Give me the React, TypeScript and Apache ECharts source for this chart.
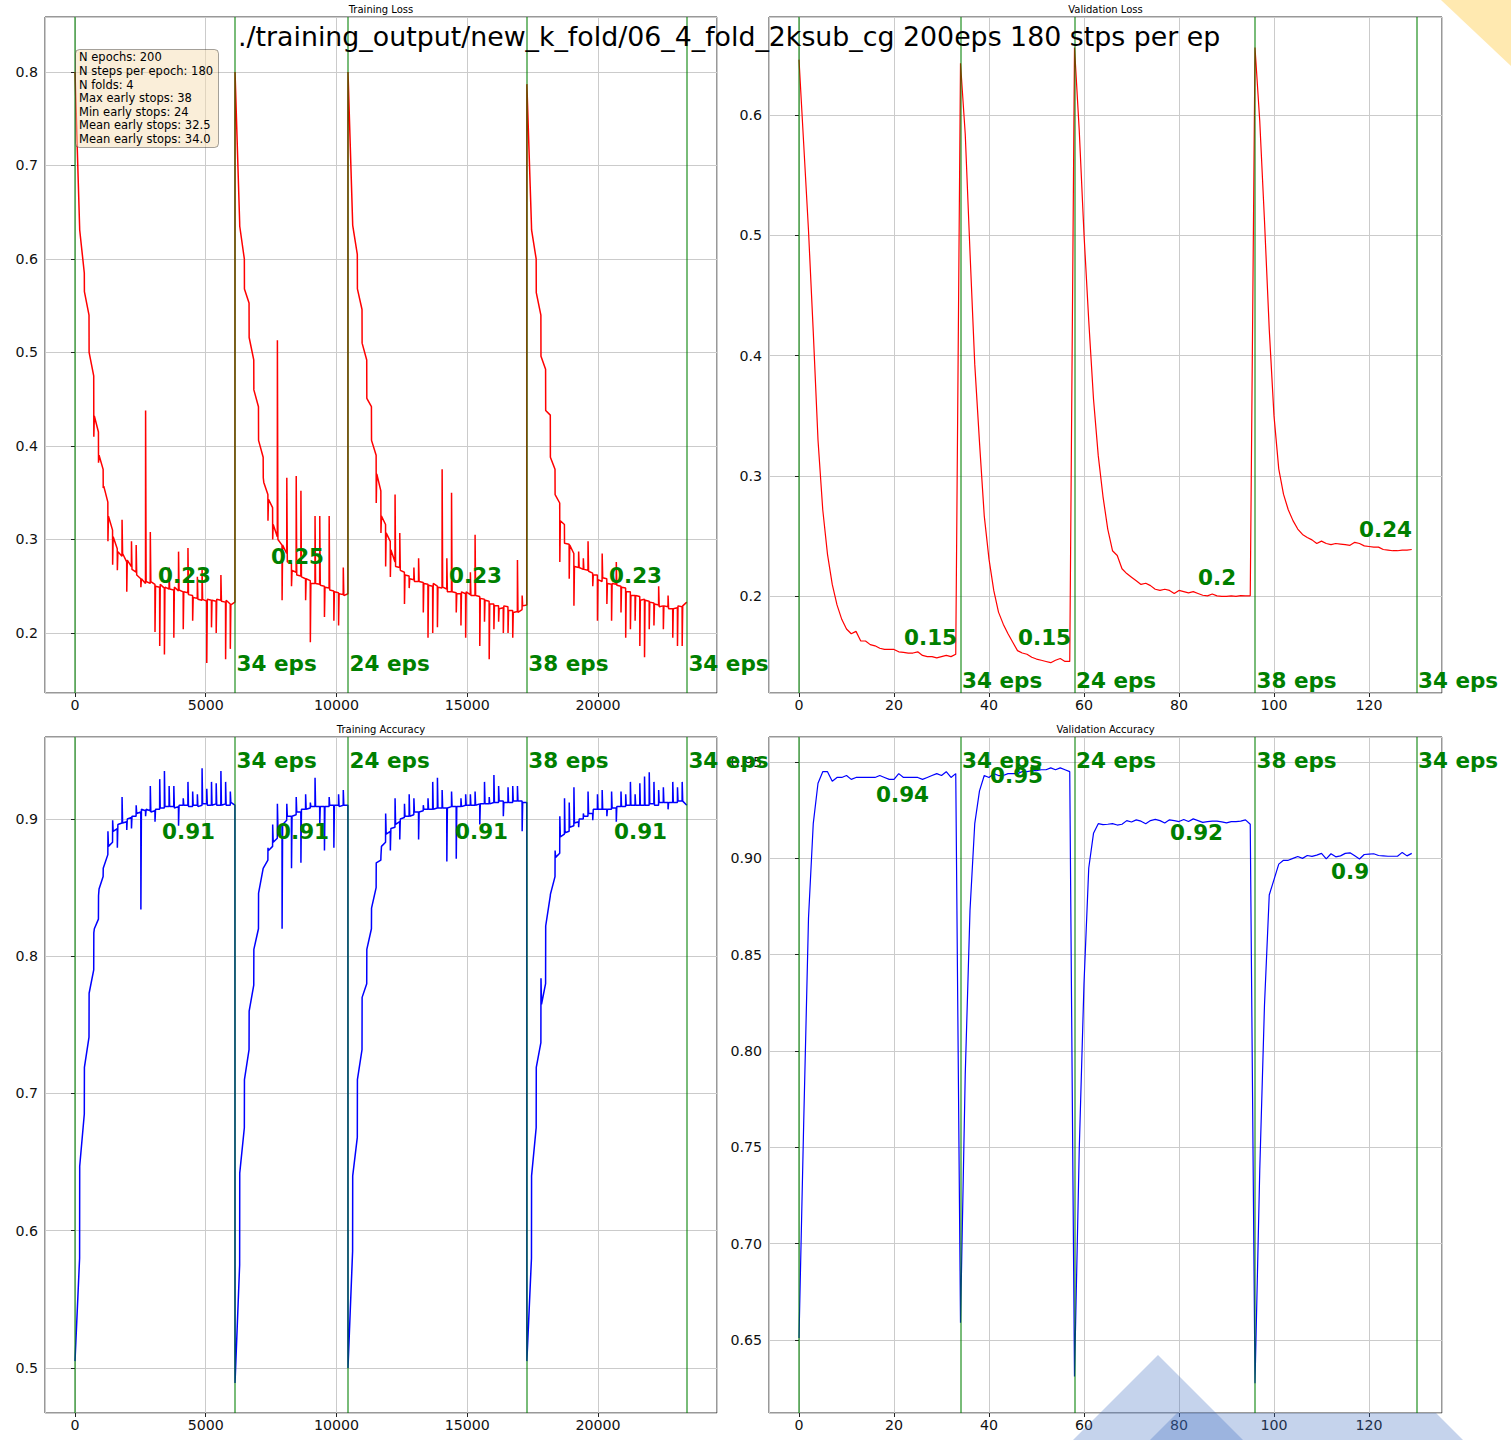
import React, { useEffect, useRef } from "react";
import * as echarts from "echarts";

// ---------------- data ----------------
const STEPS_PER_EPOCH = 180;
const foldEpochs = [34, 24, 38, 34];

const titleText = "./training_output/new_k_fold/06_4_fold_2ksub_cg 200eps 180 stps per ep";
const panelTitles = ["Training Loss", "Validation Loss", "Training Accuracy", "Validation Accuracy"];
const infoLines = [
  "N epochs: 200",
  "N steps per epoch: 180",
  "N folds: 4",
  "Max early stops: 38",
  "Min early stops: 24",
  "Mean early stops: 32.5",
  "Mean early stops: 34.0",
];

// training loss per epoch: [first batches of epoch, settled running value, end-of-epoch value]
const trainLossFold1 = [
  [0.8, 0.8, 0.635], [0.631, 0.631, 0.585], [0.565, 0.565, 0.54], [0.5, 0.5, 0.475],
  [0.41, 0.432, 0.415], [0.382, 0.39, 0.375], [0.355, 0.357, 0.34], [0.298, 0.325, 0.31],
  [0.273, 0.303, 0.29], [0.267, 0.287, 0.282], [0.321, 0.285, 0.276], [0.244, 0.278, 0.271],
  [0.298, 0.268, 0.265], [0.294, 0.262, 0.258], [0.249, 0.258, 0.253], [0.438, 0.255, 0.253],
  [0.308, 0.255, 0.252], [0.201, 0.25, 0.249], [0.186, 0.252, 0.248], [0.177, 0.249, 0.247],
  [0.27, 0.247, 0.246], [0.195, 0.249, 0.245], [0.287, 0.246, 0.244], [0.204, 0.244, 0.243],
  [0.291, 0.241, 0.24], [0.213, 0.238, 0.237], [0.26, 0.236, 0.235], [0.269, 0.236, 0.234],
  [0.168, 0.236, 0.235], [0.206, 0.235, 0.234], [0.2, 0.236, 0.235], [0.262, 0.234, 0.233],
  [0.172, 0.235, 0.231], [0.183, 0.23, 0.233],
];
const trainLossFold2 = [
  [0.8, 0.8, 0.64], [0.635, 0.635, 0.6], [0.568, 0.568, 0.553], [0.516, 0.516, 0.492],
  [0.46, 0.46, 0.442], [0.406, 0.406, 0.388], [0.366, 0.361, 0.348], [0.32, 0.343, 0.334],
  [0.3, 0.316, 0.303], [0.513, 0.3, 0.294], [0.235, 0.294, 0.285], [0.366, 0.276, 0.274],
  [0.25, 0.267, 0.265], [0.368, 0.262, 0.261], [0.352, 0.26, 0.258], [0.235, 0.258, 0.256],
  [0.19, 0.253, 0.253], [0.325, 0.253, 0.252], [0.325, 0.251, 0.25], [0.217, 0.249, 0.248],
  [0.325, 0.246, 0.245], [0.213, 0.244, 0.243], [0.208, 0.242, 0.241], [0.27, 0.24, 0.242],
];
const trainLossFold3 = [
  [0.8, 0.8, 0.64], [0.636, 0.636, 0.605], [0.568, 0.568, 0.546], [0.51, 0.51, 0.492],
  [0.451, 0.451, 0.442], [0.406, 0.406, 0.39], [0.339, 0.37, 0.352], [0.307, 0.325, 0.316],
  [0.271, 0.307, 0.298], [0.26, 0.289, 0.276], [0.348, 0.271, 0.27], [0.307, 0.267, 0.265],
  [0.231, 0.262, 0.261], [0.248, 0.258, 0.257], [0.27, 0.255, 0.255], [0.28, 0.255, 0.254],
  [0.222, 0.253, 0.252], [0.195, 0.251, 0.25], [0.2, 0.253, 0.25], [0.206, 0.249, 0.248],
  [0.375, 0.249, 0.247], [0.28, 0.244, 0.244], [0.35, 0.244, 0.243], [0.222, 0.242, 0.242],
  [0.208, 0.244, 0.242], [0.195, 0.244, 0.241], [0.265, 0.24, 0.24], [0.305, 0.24, 0.239],
  [0.186, 0.237, 0.236], [0.212, 0.235, 0.234], [0.172, 0.231, 0.231], [0.204, 0.229, 0.229],
  [0.212, 0.226, 0.227], [0.2, 0.229, 0.228], [0.2, 0.224, 0.224], [0.195, 0.222, 0.223],
  [0.278, 0.222, 0.225], [0.24, 0.229, 0.23],
];
const trainLossFold4 = [
  [0.787, 0.787, 0.636], [0.631, 0.631, 0.6], [0.564, 0.564, 0.54], [0.496, 0.496, 0.482],
  [0.438, 0.438, 0.433], [0.388, 0.388, 0.375], [0.348, 0.348, 0.339], [0.276, 0.32, 0.316],
  [0.296, 0.296, 0.295], [0.258, 0.294, 0.285], [0.229, 0.271, 0.27], [0.287, 0.27, 0.268],
  [0.28, 0.268, 0.267], [0.298, 0.266, 0.264], [0.25, 0.262, 0.262], [0.213, 0.257, 0.255],
  [0.285, 0.259, 0.258], [0.231, 0.253, 0.252], [0.213, 0.253, 0.252], [0.276, 0.251, 0.25],
  [0.222, 0.249, 0.248], [0.195, 0.244, 0.244], [0.204, 0.24, 0.24], [0.213, 0.24, 0.239],
  [0.186, 0.235, 0.236], [0.174, 0.235, 0.234], [0.204, 0.233, 0.232], [0.208, 0.231, 0.23],
  [0.25, 0.228, 0.229], [0.204, 0.229, 0.228], [0.24, 0.226, 0.226], [0.195, 0.226, 0.227],
  [0.186, 0.229, 0.228], [0.186, 0.229, 0.233],
];

// training accuracy per epoch: [first batches of epoch, settled running value, end-of-epoch value]
const trainAccFold1 = [
  [0.505, 0.505, 0.58], [0.647, 0.647, 0.685], [0.719, 0.719, 0.741], [0.773, 0.773, 0.79],
  [0.817, 0.82, 0.827], [0.844, 0.849, 0.858], [0.864, 0.864, 0.874], [0.891, 0.88, 0.883],
  [0.899, 0.891, 0.893], [0.879, 0.896, 0.897], [0.916, 0.897, 0.898], [0.892, 0.9, 0.901],
  [0.893, 0.902, 0.902], [0.91, 0.904, 0.905], [0.834, 0.907, 0.906], [0.902, 0.907, 0.906],
  [0.924, 0.905, 0.906], [0.898, 0.907, 0.907], [0.929, 0.908, 0.908], [0.935, 0.909, 0.909],
  [0.924, 0.909, 0.909], [0.924, 0.908, 0.909], [0.895, 0.91, 0.91], [0.915, 0.91, 0.91],
  [0.927, 0.909, 0.909], [0.92, 0.91, 0.91], [0.918, 0.909, 0.91], [0.937, 0.911, 0.911],
  [0.922, 0.91, 0.91], [0.927, 0.91, 0.911], [0.926, 0.91, 0.91], [0.935, 0.91, 0.911],
  [0.927, 0.91, 0.91], [0.92, 0.912, 0.91],
];
const trainAccFold2 = [
  [0.489, 0.489, 0.575], [0.642, 0.642, 0.675], [0.71, 0.71, 0.732], [0.76, 0.76, 0.779],
  [0.805, 0.805, 0.82], [0.846, 0.846, 0.864], [0.864, 0.864, 0.87], [0.879, 0.877, 0.88],
  [0.896, 0.883, 0.886], [0.911, 0.894, 0.895], [0.82, 0.896, 0.899], [0.911, 0.902, 0.902],
  [0.864, 0.902, 0.903], [0.916, 0.905, 0.905], [0.868, 0.907, 0.907], [0.918, 0.907, 0.908],
  [0.912, 0.909, 0.909], [0.93, 0.909, 0.909], [0.896, 0.909, 0.909], [0.877, 0.909, 0.909],
  [0.916, 0.91, 0.91], [0.879, 0.91, 0.91], [0.918, 0.909, 0.91], [0.921, 0.91, 0.91],
];
const trainAccFold3 = [
  [0.5, 0.5, 0.585], [0.64, 0.64, 0.668], [0.71, 0.71, 0.732], [0.77, 0.77, 0.78],
  [0.805, 0.805, 0.82], [0.835, 0.835, 0.85], [0.868, 0.868, 0.87], [0.873, 0.88, 0.883],
  [0.904, 0.889, 0.891], [0.877, 0.893, 0.894], [0.915, 0.896, 0.898], [0.885, 0.9, 0.901],
  [0.911, 0.902, 0.902], [0.918, 0.902, 0.903], [0.915, 0.905, 0.905], [0.885, 0.905, 0.906],
  [0.91, 0.907, 0.907], [0.915, 0.907, 0.907], [0.927, 0.907, 0.908], [0.93, 0.908, 0.908],
  [0.921, 0.908, 0.908], [0.869, 0.908, 0.909], [0.92, 0.909, 0.909], [0.871, 0.909, 0.909],
  [0.915, 0.909, 0.91], [0.918, 0.91, 0.91], [0.918, 0.91, 0.91], [0.92, 0.91, 0.911],
  [0.896, 0.911, 0.911], [0.927, 0.911, 0.911], [0.916, 0.911, 0.912], [0.932, 0.912, 0.912],
  [0.924, 0.913, 0.913], [0.902, 0.912, 0.912], [0.923, 0.912, 0.912], [0.924, 0.913, 0.913],
  [0.924, 0.913, 0.913], [0.891, 0.912, 0.912],
];
const trainAccFold4 = [
  [0.505, 0.505, 0.58], [0.64, 0.64, 0.675], [0.719, 0.719, 0.737], [0.784, 0.765, 0.78],
  [0.822, 0.822, 0.844], [0.845, 0.845, 0.858], [0.877, 0.872, 0.875], [0.902, 0.887, 0.889],
  [0.915, 0.89, 0.891], [0.912, 0.894, 0.895], [0.923, 0.897, 0.898], [0.894, 0.9, 0.9],
  [0.904, 0.902, 0.902], [0.92, 0.904, 0.904], [0.899, 0.907, 0.907], [0.918, 0.907, 0.907],
  [0.921, 0.907, 0.907], [0.902, 0.907, 0.907], [0.92, 0.908, 0.908], [0.898, 0.909, 0.909],
  [0.92, 0.909, 0.909], [0.918, 0.91, 0.91], [0.927, 0.91, 0.91], [0.918, 0.91, 0.91],
  [0.926, 0.91, 0.91], [0.931, 0.91, 0.91], [0.934, 0.911, 0.911], [0.927, 0.91, 0.91],
  [0.921, 0.912, 0.912], [0.923, 0.912, 0.912], [0.907, 0.912, 0.912], [0.927, 0.912, 0.912],
  [0.923, 0.913, 0.913], [0.927, 0.913, 0.91],
];

// validation values, one per epoch
const valLossFold1 = [0.646, 0.575, 0.504, 0.42, 0.33, 0.272, 0.235, 0.21, 0.193, 0.181, 0.173, 0.169, 0.171, 0.163, 0.163, 0.16, 0.159, 0.157, 0.156, 0.156, 0.156, 0.154, 0.1535, 0.153, 0.153, 0.154, 0.151, 0.15, 0.15, 0.149, 0.15, 0.151, 0.15, 0.152];
const valLossFold2 = [0.643, 0.584, 0.486, 0.393, 0.328, 0.267, 0.231, 0.205, 0.187, 0.177, 0.169, 0.162, 0.155, 0.153, 0.152, 0.1495, 0.148, 0.147, 0.146, 0.145, 0.147, 0.1485, 0.146, 0.146];
const valLossFold3 = [0.656, 0.587, 0.501, 0.429, 0.364, 0.317, 0.283, 0.256, 0.238, 0.234, 0.223, 0.219, 0.216, 0.213, 0.21, 0.211, 0.209, 0.206, 0.205, 0.206, 0.205, 0.2025, 0.205, 0.204, 0.203, 0.204, 0.2025, 0.201, 0.2005, 0.202, 0.2005, 0.2, 0.2, 0.2005, 0.2, 0.2007, 0.2005, 0.2005];
const valLossFold4 = [0.656, 0.595, 0.512, 0.422, 0.35, 0.306, 0.285, 0.272, 0.263, 0.256, 0.2515, 0.249, 0.247, 0.244, 0.246, 0.244, 0.243, 0.244, 0.2435, 0.243, 0.2425, 0.245, 0.244, 0.242, 0.2415, 0.241, 0.241, 0.239, 0.2385, 0.238, 0.238, 0.2385, 0.2385, 0.239];

const valAccFold1 = [0.651, 0.764, 0.869, 0.918, 0.939, 0.945, 0.945, 0.94, 0.942, 0.942, 0.943, 0.941, 0.942, 0.942, 0.942, 0.942, 0.942, 0.943, 0.942, 0.941, 0.941, 0.944, 0.942, 0.942, 0.942, 0.942, 0.941, 0.942, 0.943, 0.944, 0.943, 0.945, 0.942, 0.944];
const valAccFold2 = [0.659, 0.788, 0.873, 0.918, 0.935, 0.943, 0.942, 0.944, 0.943, 0.943, 0.944, 0.944, 0.944, 0.945, 0.945, 0.9455, 0.9455, 0.946, 0.946, 0.947, 0.946, 0.947, 0.946, 0.945];
const valAccFold3 = [0.631, 0.749, 0.835, 0.895, 0.913, 0.918, 0.9175, 0.9177, 0.918, 0.9173, 0.9177, 0.9196, 0.9189, 0.92, 0.9193, 0.918, 0.9196, 0.9202, 0.9196, 0.9184, 0.92, 0.9196, 0.9191, 0.9202, 0.9191, 0.9205, 0.9196, 0.9187, 0.9191, 0.9193, 0.9193, 0.9189, 0.9184, 0.9191, 0.9191, 0.9193, 0.92, 0.9177];
const valAccFold4 = [0.6275, 0.738, 0.824, 0.881, 0.889, 0.897, 0.899, 0.899, 0.9, 0.901, 0.9, 0.9015, 0.901, 0.9017, 0.9026, 0.8997, 0.9024, 0.9008, 0.9013, 0.9026, 0.9029, 0.9013, 0.8997, 0.902, 0.9022, 0.9024, 0.9015, 0.9013, 0.9011, 0.9011, 0.9011, 0.9031, 0.9013, 0.9026];

// per-fold summary labels
const trainLossLabels = ["0.23", "0.25", "0.23", "0.23"];
const valLossLabels = ["0.15", "0.15", "0.2", "0.24"];
const trainAccLabels = ["0.91", "0.91", "0.91", "0.91"];
const valAccLabels = ["0.94", "0.95", "0.92", "0.9"];

// ---------------- layout ----------------
const FONT = "DejaVu Sans";
const GRIDS = [
  { left: 45, top: 17, width: 672, height: 676 },
  { left: 769, top: 17, width: 673, height: 676 },
  { left: 45, top: 737, width: 672, height: 676 },
  { left: 769, top: 737, width: 673, height: 676 },
];
const X_RANGES = [[-1147, 24551], [-6.316, 135.37], [-1147, 24551], [-6.316, 135.37]];
const X_STEPS = [5000, 20, 5000, 20];
const Y_RANGES = [[0.1358, 0.8588], [0.1198, 0.6814], [0.4672, 0.9597], [0.6121, 0.963]];
const Y_STEPS = [0.1, 0.1, 0.1, 0.05];
const EPS_LABEL_Y = [663, 680, 760, 760];
const VALUE_LABEL_POS = [
  [[158, 575], [271, 556], [449, 575], [609, 575]],
  [[904, 637], [1018, 637], [1198, 577], [1359, 529]],
  [[162, 831], [276, 831], [455, 831], [614, 831]],
  [[876, 794], [990, 775], [1170, 832], [1331, 871]],
];

function buildTrain(folds: number[][][]) {
  const out: number[][] = [];
  let epoch = 0;
  folds.forEach((fold) => {
    fold.forEach(([s, a, b]) => {
      const base = epoch * STEPS_PER_EPOCH;
      out.push([base, s], [base + 20, a], [base + 176, b]);
      epoch += 1;
    });
  });
  return out;
}
function buildVal(folds: number[][]) {
  const out: number[][] = [];
  let i = 0;
  folds.forEach((f) => f.forEach((v) => out.push([i++, v])));
  return out;
}
function boundaries(scale: number) {
  const b = [0];
  let acc = 0;
  foldEpochs.forEach((e) => {
    acc += e;
    b.push(acc * scale);
  });
  return b;
}

export default function App() {
  const ref = useRef<HTMLDivElement>(null);
  useEffect(() => {
    if (!ref.current) return;
    const chart = echarts.init(ref.current, null, { renderer: "svg" });

    const trainLoss = buildTrain([trainLossFold1, trainLossFold2, trainLossFold3, trainLossFold4]);
    const trainAcc = buildTrain([trainAccFold1, trainAccFold2, trainAccFold3, trainAccFold4]);
    const valLoss = buildVal([valLossFold1, valLossFold2, valLossFold3, valLossFold4]);
    const valAcc = buildVal([valAccFold1, valAccFold2, valAccFold3, valAccFold4]);
    const trainB = boundaries(STEPS_PER_EPOCH);
    const valB = boundaries(1);
    const bounds = [trainB, valB, trainB, valB];

    const labelStyle = { fontFamily: FONT, fontSize: 14.2, color: "#111" };

    const xAxis = GRIDS.map((g, i) => ({
      type: "value",
      gridIndex: i,
      min: X_RANGES[i][0],
      max: X_RANGES[i][1],
      minInterval: X_STEPS[i],
      maxInterval: X_STEPS[i],
      axisLine: { show: false },
      axisTick: { show: true, length: 4, lineStyle: { color: "#222" } },
      axisLabel: {
        ...labelStyle,
        margin: 5,
        showMinLabel: false,
        showMaxLabel: false,
        formatter: (v: number) => String(Math.round(v)),
      },
      splitLine: { show: true, lineStyle: { color: "#cbcbcb", width: 1 } },
    }));
    const yAxis = GRIDS.map((g, i) => ({
      type: "value",
      gridIndex: i,
      min: Y_RANGES[i][0],
      max: Y_RANGES[i][1],
      minInterval: Y_STEPS[i],
      maxInterval: Y_STEPS[i],
      axisLine: { show: false },
      axisTick: { show: true, length: 4, lineStyle: { color: "#222" } },
      axisLabel: {
        ...labelStyle,
        margin: 7,
        showMinLabel: false,
        showMaxLabel: false,
        formatter: (v: number) => (i === 3 ? v.toFixed(2) : String(Math.round(v * 10) / 10)),
      },
      splitLine: { show: true, lineStyle: { color: "#cbcbcb", width: 1 } },
    }));

    const seriesData = [trainLoss, valLoss, trainAcc, valAcc];
    const colors = ["#ff0000", "#ff0000", "#0000ff", "#0000ff"];
    const widths = [1.5, 1.2, 1.5, 1.2];
    const series: any[] = [];
    seriesData.forEach((d, i) => {
      series.push({
        type: "line",
        xAxisIndex: i,
        yAxisIndex: i,
        data: d,
        showSymbol: false,
        symbol: "none",
        z: 2,
        lineStyle: { color: colors[i], width: widths[i] },
        itemStyle: { color: colors[i] },
      });
    });
    bounds.forEach((b, i) => {
      series.push({
        type: "line",
        xAxisIndex: i,
        yAxisIndex: i,
        data: [],
        z: 3,
        markLine: {
          silent: true,
          symbol: ["none", "none"],
          label: { show: false },
          lineStyle: { color: "#008000", width: 1.5, type: "solid", opacity: 0.7 },
          data: b.map((v) => ({ xAxis: v })),
        },
      });
    });

    const xPix = (i: number, v: number) =>
      GRIDS[i].left + ((v - X_RANGES[i][0]) / (X_RANGES[i][1] - X_RANGES[i][0])) * GRIDS[i].width;

    const graphic: any[] = [];
    const txt = (text: string, x: number, y: number, size: number, opts: any = {}) => ({
      type: "text",
      x,
      y,
      z: 100,
      silent: true,
      style: {
        text,
        fontFamily: FONT,
        fontSize: size,
        fontWeight: opts.bold ? "bold" : "normal",
        fill: opts.fill || "#000",
        align: opts.align || "left",
        textAlign: opts.align || "left",
        verticalAlign: opts.va || "middle",
        textVerticalAlign: opts.va || "middle",
        lineHeight: opts.lineHeight,
      },
    });

    graphic.push(txt(titleText, 238, 36, 26.8));
    panelTitles.forEach((t, i) => {
      graphic.push(txt(t, GRIDS[i].left + GRIDS[i].width / 2, GRIDS[i].top - 8, 10, { align: "center" }));
    });
    const summary = [trainLossLabels, valLossLabels, trainAccLabels, valAccLabels];
    bounds.forEach((b, i) => {
      foldEpochs.forEach((e, f) => {
        graphic.push(txt(`${e} eps`, xPix(i, b[f + 1]) + 1.5, EPS_LABEL_Y[i], 21.5, { bold: true, fill: "#008000" }));
        const p = VALUE_LABEL_POS[i][f];
        graphic.push(txt(summary[i][f], p[0], p[1], 21.5, { bold: true, fill: "#008000" }));
      });
    });
    graphic.push({
      type: "rect",
      z: 90,
      silent: true,
      shape: { x: 75.5, y: 49.5, width: 143, height: 98, r: 4 },
      style: { fill: "rgba(245,222,179,0.5)", stroke: "rgba(0,0,0,0.35)", lineWidth: 1 },
    });
    graphic.push(txt(infoLines.join("\n"), 79, 50.5, 11.5, { va: "top", lineHeight: 13.6 }));

    // page decorations
    graphic.push({
      type: "polygon",
      z: 200,
      silent: true,
      shape: { points: [[1441, 0], [1511, 0], [1511, 66]] },
      style: { fill: "#ffe9b0" },
    });
    graphic.push({
      type: "polygon",
      z: 200,
      silent: true,
      shape: { points: [[1073, 1440], [1158, 1355], [1243, 1440]] },
      style: { fill: "rgba(62,108,192,0.3)" },
    });
    graphic.push({
      type: "polygon",
      z: 200,
      silent: true,
      shape: { points: [[1150, 1440], [1177, 1413], [1436, 1413], [1463, 1440]] },
      style: { fill: "rgba(62,108,192,0.3)" },
    });

    chart.setOption({
      animation: false,
      backgroundColor: "#ffffff",
      grid: GRIDS.map((g) => ({ ...g, show: true, borderColor: "#333", borderWidth: 1, backgroundColor: "transparent", containLabel: false })),
      xAxis,
      yAxis,
      series,
      graphic,
    });
    return () => chart.dispose();
  }, []);
  return <div ref={ref} style={{ position: "absolute", left: 0, top: 0, width: 1511, height: 1440 }} />;
}
